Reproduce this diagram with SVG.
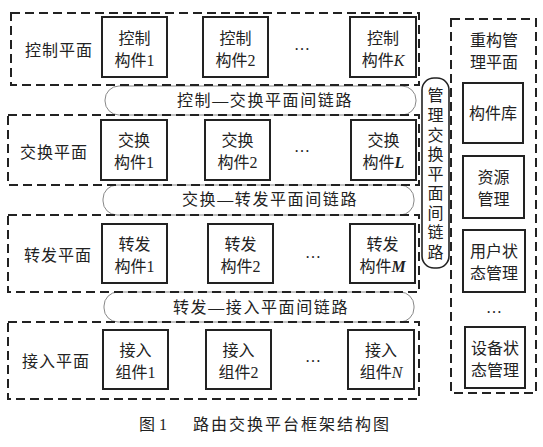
<svg xmlns="http://www.w3.org/2000/svg" width="543" height="447" viewBox="0 0 543 447">
<style>
text{font-family:"Liberation Serif","Noto Sans CJK SC",serif;fill:#222;font-size:16px;text-anchor:middle}
.plane{fill:none;stroke:#222;stroke-width:2;stroke-dasharray:9 5}
.box{fill:#fff;stroke:#222;stroke-width:2}
.link{fill:none;stroke:#888;stroke-width:1}
.mg{fill:#fff;stroke:#222;stroke-width:1.6}
.lt{letter-spacing:1.6px}
.pl{letter-spacing:1px}
.cap{font-size:18px}
.v{font-size:17px}
</style>
<rect width="543" height="447" fill="#fff"/>
<g id="connectors">
<rect class="link" x="105" y="86" width="311" height="29" rx="14"/>
<rect class="link" x="103" y="185" width="311" height="30" rx="14"/>
<rect class="link" x="104" y="292" width="310" height="30" rx="14"/>
<rect class="mg" x="422" y="78" width="27" height="190" rx="12"/>
</g>
<g id="link1" class="lt"><text x="265" y="106">控制—交换平面间链路</text></g>
<g id="link2" class="lt"><text x="270" y="205">交换—转发平面间链路</text></g>
<g id="link3" class="lt"><text x="261" y="313">转发—接入平面间链路</text></g>
<g id="link-mgmt" class="v">
<text x="435.5" y="101">管</text><text x="435.5" y="121">理</text><text x="435.5" y="141">交</text><text x="435.5" y="160">换</text><text x="435.5" y="180">平</text><text x="435.5" y="199">面</text><text x="435.5" y="219">间</text><text x="435.5" y="238">链</text><text x="435.5" y="258">路</text>
</g>
<g id="control-plane">
<rect class="plane" x="11" y="13" width="408" height="72"/>
<text class="pl" x="59" y="56">控制平面</text>
<rect class="box" x="102" y="17" width="65" height="60"/><text x="134.5" y="44">控制</text><text x="134.5" y="66">构件1</text>
<rect class="box" x="203" y="17" width="65" height="60"/><text x="235.5" y="44">控制</text><text x="235.5" y="66">构件2</text>
<text x="302" y="50">…</text>
<rect class="box" x="350" y="17" width="66" height="60"/><text x="383" y="44">控制</text><text x="383" y="66">构件<tspan font-style="italic">K</tspan></text>
</g>
<g id="switch-plane">
<rect class="plane" x="8" y="115" width="411" height="70"/>
<text class="pl" x="54" y="158">交换平面</text>
<rect class="box" x="101" y="120" width="66" height="60"/><text x="134" y="146">交换</text><text x="134" y="168">构件1</text>
<rect class="box" x="205" y="120" width="65" height="60"/><text x="237.5" y="146">交换</text><text x="237.5" y="168">构件2</text>
<text x="302" y="152">…</text>
<rect class="box" x="351" y="120" width="65" height="60"/><text x="383.5" y="146">交换</text><text x="383.5" y="168">构件<tspan font-style="italic" font-weight="bold">L</tspan></text>
</g>
<g id="forward-plane">
<rect class="plane" x="8" y="215" width="411" height="77"/>
<text class="pl" x="58" y="261">转发平面</text>
<rect class="box" x="102" y="224" width="65" height="59"/><text x="134.5" y="250">转发</text><text x="134.5" y="272">构件1</text>
<rect class="box" x="208" y="224" width="65" height="59"/><text x="240.5" y="250">转发</text><text x="240.5" y="272">构件2</text>
<text x="313" y="258">…</text>
<rect class="box" x="350" y="224" width="65" height="59"/><text x="382.5" y="250">转发</text><text x="382.5" y="272">构件<tspan font-style="italic" font-weight="bold">M</tspan></text>
</g>
<g id="access-plane">
<rect class="plane" x="8" y="322" width="411" height="77"/>
<text class="pl" x="56" y="367">接入平面</text>
<rect class="box" x="103" y="330" width="65" height="59"/><text x="135.5" y="356">接入</text><text x="135.5" y="378">组件1</text>
<rect class="box" x="206" y="330" width="65" height="59"/><text x="238.5" y="356">接入</text><text x="238.5" y="378">组件2</text>
<text x="313" y="362">…</text>
<rect class="box" x="348" y="330" width="66" height="59"/><text x="381" y="356">接入</text><text x="381" y="378">组件<tspan font-style="italic">N</tspan></text>
</g>
<g id="mgmt-plane">
<rect class="plane" x="451" y="19" width="85" height="374"/>
<text x="494" y="46">重构管</text><text x="494" y="68">理平面</text>
<rect class="box" x="463" y="83" width="60" height="60"/><text x="493" y="119">构件库</text>
<rect class="box" x="463" y="156" width="61" height="62"/><text x="493.5" y="183">资源</text><text x="493.5" y="205">管理</text>
<rect class="box" x="463" y="230" width="62" height="62"/><text x="494" y="257">用户状</text><text x="494" y="279">态管理</text>
<text x="494" y="313">…</text>
<rect class="box" x="465" y="327" width="60" height="61"/><text x="495" y="354">设备状</text><text x="495" y="376">态管理</text>
</g>
<g id="caption" class="cap">
<text x="153" y="430">图 1</text>
<text x="193" y="430" style="text-anchor:start;letter-spacing:2px">路由交换平台框架结构图</text>
</g>
</svg>
